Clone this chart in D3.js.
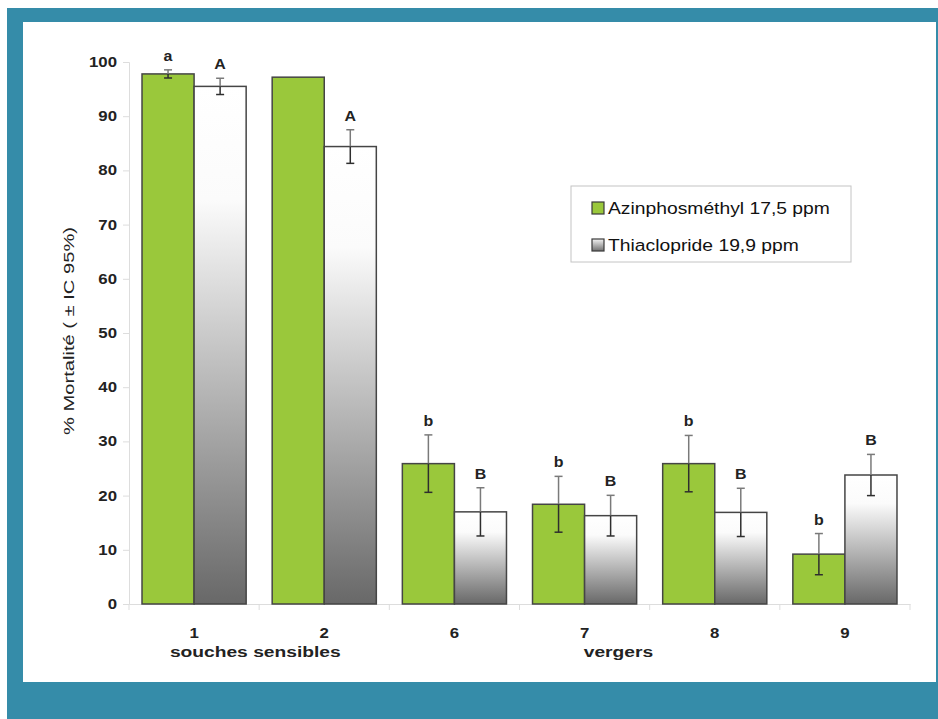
<!DOCTYPE html>
<html>
<head>
<meta charset="utf-8">
<script src="https://cdn.jsdelivr.net/npm/d3@7"></script>
<style>
  html, body { margin: 0; padding: 0; background: #fff; }
  svg { display: block; }
  text { font-family: "Liberation Sans", Arial, sans-serif; }
</style>
</head>
<body>
<svg id="chart" width="938" height="719"></svg>
<script>
// Mortality per strain, two insecticides
const categories = ["1", "2", "6", "7", "8", "9"];
const seriesNames = ["Azinphosméthyl 17,5 ppm", "Thiaclopride 19,9 ppm"];
const azinphosValues = [97.8, 97.2, 25.9, 18.4, 25.9, 9.2];
const azinphosErrors = [0.75, null, 5.3, 5.15, 5.2, 3.8];
const azinphosLetters = ["a", "", "b", "b", "b", "b"];
const thiaclopValues = [95.5, 84.4, 17.0, 16.3, 16.9, 23.8];
const thiaclopErrors = [1.5, 3.1, 4.45, 3.75, 4.45, 3.8];
const thiaclopLetters = ["A", "A", "B", "B", "B", "B"];
const yTicks = [0, 10, 20, 30, 40, 50, 60, 70, 80, 90, 100];
// Group captions under the category axis, anchored on a category centre
const groupLabels = [
  { text: "souches sensibles", at: "1", shift: 0.47 },
  { text: "vergers", at: "7", shift: 0.26 }
];

// Text in this figure is set slightly wide
const WIDE = 1.2;

const svg = d3.select("#chart");

// Frame
svg.append("rect").attr("x", 7).attr("y", 8).attr("width", 931).attr("height", 711).attr("fill", "#358ca9");
svg.append("rect").attr("x", 23).attr("y", 22).attr("width", 913).attr("height", 660).attr("fill", "#ffffff");

const plot = { left: 129, right: 910, top: 62, bottom: 604 };

const x = d3.scaleBand().domain(categories).range([plot.left, plot.right]).paddingInner(0).paddingOuter(0);
const xs = d3.scaleBand().domain([0, 1]).range([0, x.bandwidth()]).paddingInner(0).paddingOuter(0.25);
const y = d3.scaleLinear().domain([0, 100]).range([plot.bottom, plot.top]);

// Wide text helper: position by translate, stretch along the text direction
function wideText(parent, tx, ty, str, opts = {}) {
  const rot = opts.rotate ? ` rotate(${opts.rotate})` : "";
  return parent.append("text")
    .attr("transform", `translate(${tx},${ty})${rot} scale(${opts.stretch || WIDE},1)`)
    .attr("text-anchor", opts.anchor || "middle")
    .attr("font-size", opts.size || 14)
    .attr("font-weight", opts.weight || "normal")
    .attr("fill", opts.fill || "#222")
    .text(str);
}

// Gradient for the second series
const defs = svg.append("defs");
const grad = defs.append("linearGradient").attr("id", "greyFade").attr("x1", 0).attr("y1", 0).attr("x2", 0).attr("y2", 1);
grad.append("stop").attr("offset", 0).attr("stop-color", "#ffffff");
grad.append("stop").attr("offset", 0.22).attr("stop-color", "#fbfbfb");
grad.append("stop").attr("offset", 1).attr("stop-color", "#686868");

const legendGrad = defs.append("linearGradient").attr("id", "greyFadeLegend").attr("x1", 0).attr("y1", 0).attr("x2", 0).attr("y2", 1);
legendGrad.append("stop").attr("offset", 0).attr("stop-color", "#f4f4f4");
legendGrad.append("stop").attr("offset", 1).attr("stop-color", "#707070");

// Axes
const yAxis = d3.axisLeft(y).tickValues(yTicks).tickSize(6).tickPadding(6);
const gy = svg.append("g").attr("transform", `translate(${plot.left},0)`).call(yAxis);
gy.select(".domain").attr("stroke", "#dddddd");
gy.selectAll(".tick line").attr("stroke", "#dddddd");
gy.selectAll(".tick text")
  .attr("x", -12 / WIDE)
  .attr("transform", `scale(${WIDE},1)`)
  .attr("font-size", 14).attr("font-weight", "bold").attr("fill", "#222")
  .style("font-family", "'Liberation Sans', Arial, sans-serif");

const xAxis = d3.axisBottom(x).tickSize(0).tickPadding(24);
const gx = svg.append("g").attr("transform", `translate(0,${plot.bottom})`).call(xAxis);
gx.select(".domain").attr("stroke", "#dddddd");
gx.selectAll(".tick text")
  .attr("transform", `scale(${WIDE},1)`)
  .attr("font-size", 14).attr("font-weight", "bold").attr("fill", "#222")
  .style("font-family", "'Liberation Sans', Arial, sans-serif");

// Category separators below the axis
const boundaries = categories.map(c => x(c)).concat([x(categories[categories.length - 1]) + x.bandwidth()]);
svg.append("g").selectAll("line").data(boundaries).join("line")
  .attr("x1", d => d).attr("x2", d => d)
  .attr("y1", plot.bottom).attr("y2", plot.bottom + 6)
  .attr("stroke", "#dddddd");

// Group labels
groupLabels.forEach(d => {
  const cx = x(d.at) + x.bandwidth() * (0.5 + d.shift);
  wideText(svg, cx, 657, d.text, { size: 15.5, weight: "bold", stretch: 1.24 });
});

// Y title
wideText(svg, 74, 331, "% Mortalité ( ± IC 95%)", { size: 15.5, rotate: -90, stretch: 1.3 });

// Bars
const series = [
  { values: azinphosValues, errors: azinphosErrors, letters: azinphosLetters, fill: "#9ac83b", idx: 0 },
  { values: thiaclopValues, errors: thiaclopErrors, letters: thiaclopLetters, fill: "url(#greyFade)", idx: 1 }
];

series.forEach(s => {
  const rows = categories.map((c, i) => ({ c, v: s.values[i], e: s.errors[i], l: s.letters[i] }));
  const g = svg.append("g");
  g.selectAll("rect").data(rows).join("rect")
    .attr("x", d => x(d.c) + xs(s.idx))
    .attr("y", d => y(d.v))
    .attr("width", xs.bandwidth())
    .attr("height", d => y(0) - y(d.v))
    .attr("fill", s.fill)
    .attr("stroke", "#454545")
    .attr("stroke-width", 1.5);

  // Error bars: upper half lighter, lower half darker
  const eb = g.selectAll("g.err").data(rows.filter(d => d.e != null)).join("g").attr("class", "err");
  const cx = d => x(d.c) + xs(s.idx) + xs.bandwidth() / 2;
  eb.append("line")
    .attr("x1", cx).attr("x2", cx)
    .attr("y1", d => y(d.v + d.e)).attr("y2", d => y(d.v))
    .attr("stroke", "#7a7a7a").attr("stroke-width", 1.5);
  eb.append("line")
    .attr("x1", d => cx(d) - 4).attr("x2", d => cx(d) + 4)
    .attr("y1", d => y(d.v + d.e)).attr("y2", d => y(d.v + d.e))
    .attr("stroke", "#7a7a7a").attr("stroke-width", 1.5);
  eb.append("line")
    .attr("x1", cx).attr("x2", cx)
    .attr("y1", d => y(d.v)).attr("y2", d => y(d.v - d.e))
    .attr("stroke", "#2e2e2e").attr("stroke-width", 1.5);
  eb.append("line")
    .attr("x1", d => cx(d) - 4).attr("x2", d => cx(d) + 4)
    .attr("y1", d => y(d.v - d.e)).attr("y2", d => y(d.v - d.e))
    .attr("stroke", "#2e2e2e").attr("stroke-width", 1.5);

  // Significance letters
  rows.filter(d => d.l).forEach(d => {
    wideText(g, cx(d), y(d.v + (d.e || 0)) - 9, d.l, { size: 14.5, weight: "bold", stretch: 1.1 });
  });
});

// Legend
const legend = svg.append("g").attr("transform", "translate(571,186)");
legend.append("rect").attr("width", 280).attr("height", 76)
  .attr("fill", "#fff").attr("stroke", "#c4c4c4").attr("stroke-width", 1);
const legendFills = ["#9ac83b", "url(#greyFadeLegend)"];
seriesNames.forEach((name, i) => {
  const row = legend.append("g").attr("transform", `translate(21,${16 + i * 37})`);
  row.append("rect").attr("width", 12).attr("height", 12)
    .attr("fill", legendFills[i]).attr("stroke", "#3a3a3a").attr("stroke-width", 1.2);
  wideText(row, 16, 12, name, { size: 16.5, anchor: "start", fill: "#111", stretch: 1.17 });
});
</script>
</body>
</html>
